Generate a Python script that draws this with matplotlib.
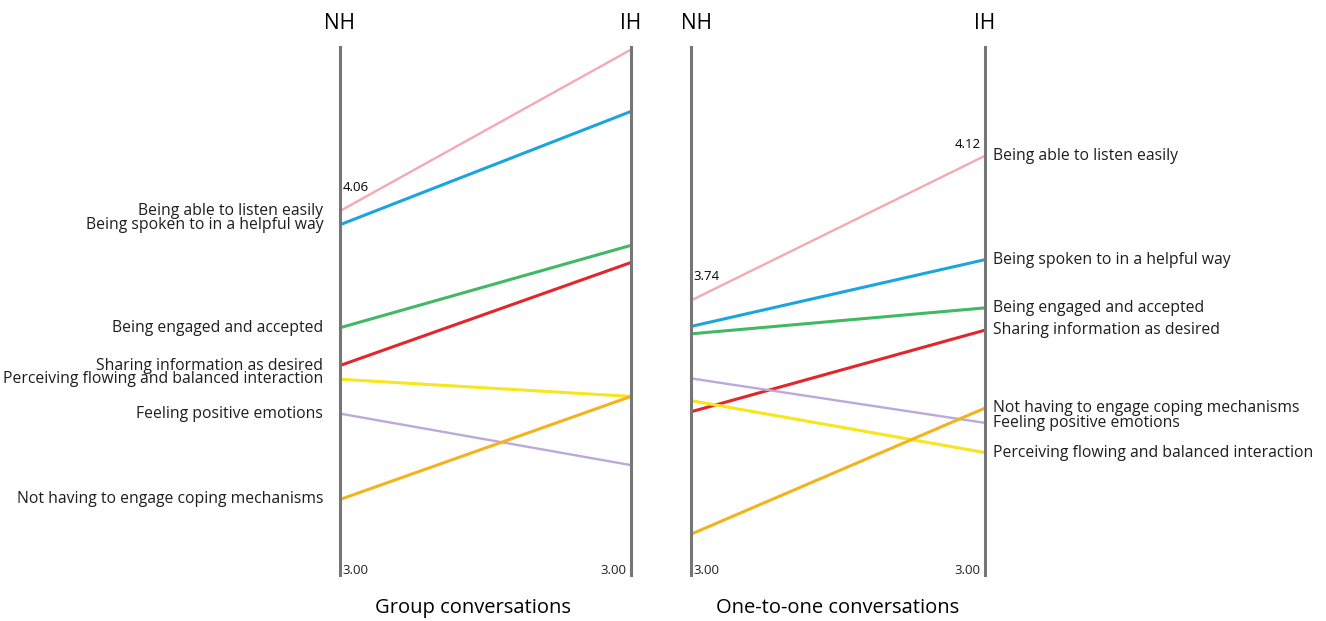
import matplotlib.pyplot as plt

plt.rcParams['font.family'] = ['Open Sans', 'DejaVu Sans']

items = ['Being able to listen easily', 'Being spoken to in a helpful way',
         'Being engaged and accepted', 'Sharing information as desired',
         'Perceiving flowing and balanced interaction', 'Feeling positive emotions',
         'Not having to engage coping mechanisms']
colors = ['#f4a9b3', '#1ba4df', '#40b964', '#e2262b', '#f6e61e', '#bba9dc', '#f4b21c']
widths = [1.7, 2.2, 2.2, 2.2, 2.2, 1.7, 2.2]

# group conversations (NH, IH)
group_nh = [4.06, 4.02, 3.72, 3.61, 3.57, 3.47, 3.22]
group_ih = [4.53, 4.35, 3.96, 3.91, 3.52, 3.32, 3.52]
# one-to-one conversations (NH, IH)
one_nh = [3.74, 3.67, 3.65, 3.44, 3.47, 3.53, 3.11]
one_ih = [4.13, 3.85, 3.72, 3.66, 3.33, 3.41, 3.45]

fig = plt.figure(figsize=(13.26, 6.21), dpi=100)
W, H = 1326, 621


def panel(x0, x1, top_val, nh, ih, title, nh_x, title_x, ann_nh, ann_ih):
    ax = fig.add_axes([x0 / W, (H - 575) / H, (x1 - x0) / W, 528 / H])
    ax.set_xlim(0, 1)
    ax.set_ylim(3.0, top_val)
    for s in ['top', 'bottom']:
        ax.spines[s].set_visible(False)
    for s in ['left', 'right']:
        ax.spines[s].set_color('#767676')
        ax.spines[s].set_linewidth(2.2)
    ax.set_xticks([])
    ax.set_yticks([])
    for i in range(len(items)):
        ax.plot([0, 1], [nh[i], ih[i]], color=colors[i], lw=widths[i],
                solid_capstyle='butt', clip_on=False)
    ax.annotate('3.00', (0, 3.0), xytext=(2, 3), textcoords='offset points',
                fontsize=9.5, ha='left', va='center', color='#222222')
    ax.annotate('3.00', (1, 3.0), xytext=(-3, 3), textcoords='offset points',
                fontsize=9.5, ha='right', va='center', color='#222222')
    ax.text(nh_x, 1.045, 'NH', transform=ax.transAxes, fontsize=15,
            ha='center', va='center')
    ax.text(1.0, 1.045, 'IH', transform=ax.transAxes, fontsize=15,
            ha='center', va='center')
    ax.text(title_x, -0.062, title, transform=ax.transAxes, fontsize=14.5,
            ha='center', va='center')
    if ann_nh is not None:
        ax.annotate(ann_nh, (0, nh[0]), xytext=(2, 17), textcoords='offset points',
                    fontsize=9.5, ha='left', va='center')
    if ann_ih is not None:
        ax.annotate(ann_ih, (1, ih[0]), xytext=(-3, 8), textcoords='offset points',
                    fontsize=9.5, ha='right', va='center')
    return ax


ax1 = panel(340, 631, 3.0 + 528 / 343.4, group_nh, group_ih,
            'Group conversations', 0.0, 0.457, '4.06', None)
for i, lab in enumerate(items):
    ax1.annotate(lab, (0, group_nh[i]), xytext=(-12, 0), textcoords='offset points',
                 fontsize=11.3, ha='right', va='center', color='#1e1e1e')

ax2 = panel(691, 985, 3.0 + 528 / 371.0, one_nh, one_ih,
            'One-to-one conversations', 0.02, 0.5, '3.74', '4.12')
for i, lab in enumerate(items):
    ax2.annotate(lab, (1, one_ih[i]), xytext=(6, 0), textcoords='offset points',
                 fontsize=11.3, ha='left', va='center', color='#1e1e1e')

fig.savefig('out.png', dpi=100)
